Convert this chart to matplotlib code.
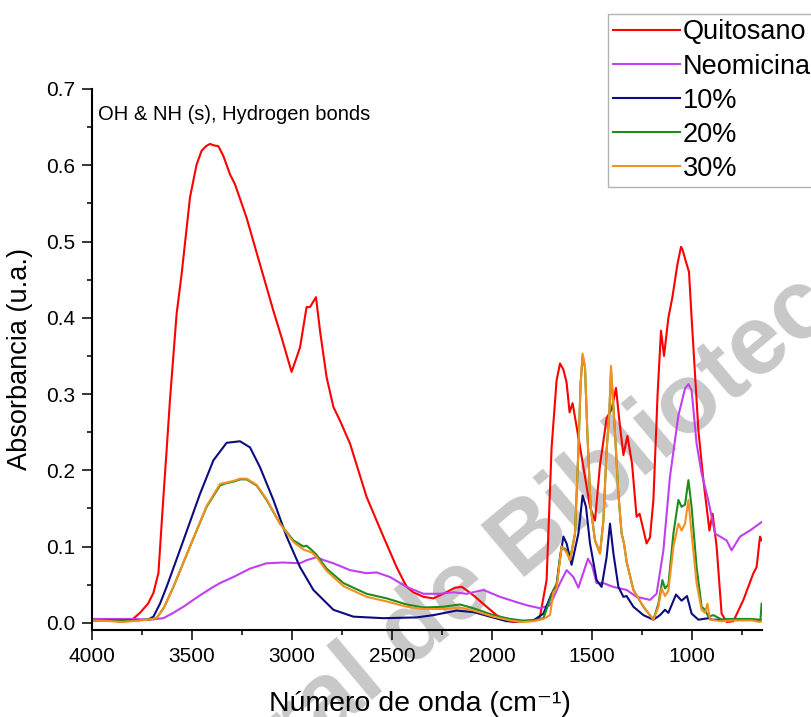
import matplotlib
matplotlib.use("Agg")
from matplotlib import pyplot as plt
from matplotlib.ticker import MultipleLocator
import numpy as np

plt.rcParams['font.family'] = ['Liberation Sans', 'DejaVu Sans']

quitosano_x = [4000, 3900, 3850, 3800, 3760, 3720, 3693, 3668, 3643, 3627, 3610, 3577, 3552, 3510,
               3477, 3452, 3430, 3410, 3390, 3368, 3343, 3310, 3285, 3227, 3160, 3093, 3052, 3020,
               3002, 2977, 2960, 2927, 2910, 2880, 2860, 2827, 2793, 2760, 2710, 2627, 2543, 2477,
               2427, 2393, 2343, 2293, 2243, 2185, 2150, 2093, 2027, 1977, 1930, 1893, 1793, 1760,
               1727, 1702, 1677, 1660, 1643, 1627, 1612, 1597, 1580, 1543, 1510, 1485, 1460, 1427,
               1402, 1380, 1362, 1343, 1323, 1300, 1277, 1262, 1227, 1210, 1193, 1172, 1155, 1140,
               1118, 1098, 1073, 1055, 1048, 1032, 1015, 1002, 993, 968, 943, 913, 897, 877, 852,
               827, 793, 743, 693, 677, 660, 652]
quitosano_y = [0.004, 0.003, 0.001, 0.004, 0.013, 0.025, 0.039, 0.065, 0.165, 0.226, 0.293, 0.405, 0.457, 0.558,
               0.601, 0.619, 0.625, 0.628, 0.626, 0.625, 0.612, 0.588, 0.575, 0.531, 0.470, 0.409, 0.374, 0.345,
               0.329, 0.348, 0.361, 0.414, 0.414, 0.427, 0.383, 0.322, 0.283, 0.265, 0.235, 0.165, 0.113, 0.073,
               0.047, 0.040, 0.034, 0.032, 0.038, 0.046, 0.047, 0.036, 0.021, 0.010, 0.003, 0.001, 0.003, 0.008,
               0.056, 0.230, 0.318, 0.340, 0.332, 0.315, 0.276, 0.288, 0.262, 0.204, 0.152, 0.134, 0.207, 0.268,
               0.280, 0.308, 0.262, 0.220, 0.245, 0.209, 0.139, 0.143, 0.104, 0.112, 0.161, 0.300, 0.383, 0.350,
               0.400, 0.427, 0.470, 0.493, 0.490, 0.475, 0.460, 0.400, 0.361, 0.252, 0.187, 0.121, 0.143, 0.100, 0.012,
               0.001, 0.002, 0.030, 0.065, 0.073, 0.113, 0.108]

neomicina_x = [4000, 3900, 3800, 3710, 3643, 3600, 3543, 3460, 3400, 3360, 3293, 3210, 3127, 3043,
               2960, 2927, 2877, 2840, 2793, 2710, 2627, 2577, 2510, 2427, 2343, 2260, 2193, 2127,
               2043, 1960, 1877, 1827, 1760, 1710, 1660, 1627, 1593, 1568, 1520, 1500, 1477, 1443,
               1393, 1327, 1277, 1210, 1177, 1143, 1110, 1068, 1035, 1018, 1002, 977, 952, 918,
               885, 827, 802, 760, 710, 652]
neomicina_y = [0.005, 0.005, 0.005, 0.004, 0.006, 0.012, 0.021, 0.036, 0.046, 0.052, 0.060, 0.071, 0.078, 0.079,
               0.078, 0.082, 0.086, 0.082, 0.078, 0.069, 0.065, 0.066, 0.060, 0.047, 0.038, 0.038, 0.040, 0.038,
               0.043, 0.034, 0.027, 0.023, 0.019, 0.023, 0.052, 0.069, 0.060, 0.046, 0.084, 0.075, 0.052, 0.052,
               0.047, 0.043, 0.034, 0.030, 0.038, 0.095, 0.192, 0.272, 0.307, 0.313, 0.305, 0.235, 0.196, 0.160,
               0.117, 0.108, 0.095, 0.113, 0.121, 0.132]

p10_x = [4000, 3900, 3800, 3720, 3693, 3660, 3627, 3543, 3460, 3393, 3327, 3260, 3210, 3160, 3093,
         3027, 2960, 2893, 2793, 2693, 2543, 2377, 2293, 2177, 2093, 2010, 1927, 1850, 1793, 1743,
         1702, 1677, 1660, 1643, 1627, 1602, 1568, 1547, 1530, 1510, 1477, 1452, 1427, 1410, 1393,
         1368, 1343, 1327, 1293, 1243, 1193, 1160, 1135, 1118, 1080, 1052, 1025, 1002, 968, 918,
         900, 800, 700, 652]
p10_y = [0.003, 0.003, 0.003, 0.004, 0.008, 0.025, 0.047, 0.108, 0.169, 0.213, 0.236, 0.238, 0.230, 0.204, 0.161,
         0.113, 0.073, 0.043, 0.017, 0.008, 0.006, 0.007, 0.010, 0.016, 0.014, 0.008, 0.002, 0.002, 0.003, 0.012,
         0.038, 0.050, 0.085, 0.113, 0.104, 0.076, 0.117, 0.167, 0.152, 0.104, 0.056, 0.047, 0.086, 0.130, 0.091,
         0.047, 0.034, 0.035, 0.021, 0.010, 0.004, 0.010, 0.017, 0.013, 0.037, 0.029, 0.035, 0.012, 0.004, 0.006,
         0.004, 0.004, 0.004, 0.003]

p20_x = [4000, 3900, 3800, 3720, 3677, 3640, 3593, 3510, 3427, 3360, 3330, 3293, 3260, 3227, 3177,
         3127, 3060, 2993, 2943, 2927, 2900, 2877, 2827, 2743, 2627, 2527, 2427, 2343, 2243, 2160,
         2093, 1993, 1910, 1850, 1793, 1743, 1693, 1677, 1652, 1627, 1610, 1585, 1568, 1557, 1547,
         1535, 1523, 1507, 1485, 1460, 1443, 1427, 1413, 1405, 1397, 1385, 1368, 1352, 1340, 1327,
         1293, 1243, 1193, 1168, 1148, 1135, 1118, 1093, 1068, 1052, 1035, 1018, 1002, 977, 952,
         935, 918, 893, 850, 800, 700, 665, 658, 652]
p20_y = [0.004, 0.003, 0.003, 0.004, 0.006, 0.020, 0.047, 0.100, 0.152, 0.180, 0.183, 0.185, 0.188, 0.188, 0.180,
         0.161, 0.130, 0.108, 0.100, 0.101, 0.095, 0.089, 0.071, 0.052, 0.038, 0.032, 0.024, 0.020, 0.021, 0.024,
         0.019, 0.010, 0.005, 0.003, 0.003, 0.006, 0.043, 0.050, 0.100, 0.095, 0.082, 0.117, 0.226, 0.313, 0.350,
         0.335, 0.248, 0.152, 0.108, 0.091, 0.134, 0.226, 0.278, 0.330, 0.300, 0.248, 0.169, 0.117, 0.104, 0.080,
         0.043, 0.021, 0.004, 0.025, 0.056, 0.045, 0.050, 0.117, 0.161, 0.152, 0.155, 0.187, 0.152, 0.073, 0.021,
         0.017, 0.008, 0.010, 0.004, 0.005, 0.005, 0.004, 0.003, 0.025]

p30_x = [4000, 3900, 3850, 3800, 3720, 3677, 3640, 3593, 3510, 3427, 3360, 3293, 3260, 3227, 3177,
         3127, 3060, 2993, 2943, 2900, 2877, 2827, 2743, 2627, 2527, 2427, 2343, 2243, 2160, 2093,
         1993, 1910, 1850, 1793, 1743, 1710, 1693, 1677, 1652, 1627, 1610, 1585, 1568, 1557, 1547,
         1535, 1523, 1507, 1485, 1460, 1443, 1427, 1413, 1405, 1397, 1385, 1368, 1352, 1340, 1327,
         1293, 1243, 1193, 1168, 1152, 1135, 1118, 1093, 1068, 1052, 1035, 1018, 1002, 977, 952,
         935, 923, 910, 850, 800, 700, 660, 652]
p30_y = [0.003, 0.002, 0.001, 0.002, 0.004, 0.006, 0.020, 0.047, 0.100, 0.153, 0.182, 0.186, 0.189, 0.189, 0.181,
         0.162, 0.130, 0.106, 0.096, 0.092, 0.086, 0.068, 0.048, 0.034, 0.028, 0.021, 0.018, 0.018, 0.020, 0.016,
         0.008, 0.003, 0.001, 0.002, 0.005, 0.010, 0.040, 0.045, 0.100, 0.092, 0.082, 0.117, 0.226, 0.313, 0.353,
         0.335, 0.248, 0.152, 0.108, 0.091, 0.134, 0.226, 0.278, 0.337, 0.300, 0.248, 0.169, 0.117, 0.104, 0.080,
         0.043, 0.021, 0.004, 0.021, 0.045, 0.035, 0.042, 0.100, 0.130, 0.121, 0.130, 0.161, 0.117, 0.052, 0.017,
         0.013, 0.025, 0.004, 0.002, 0.003, 0.003, 0.001, 0.002]

series = [
    ("Quitosano", quitosano_x, quitosano_y, "#ff0000"),
    ("Neomicina", neomicina_x, neomicina_y, "#c23ff0"),
    ("10%", p10_x, p10_y, "#0c0c80"),
    ("20%", p20_x, p20_y, "#1e8c1e"),
    ("30%", p30_x, p30_y, "#f5901e"),
]

fig = plt.figure(figsize=(8.12, 7.17), dpi=100)
ax = fig.add_axes([92 / 812, 1 - 630 / 717, 670 / 812, 541 / 717])
ax.patch.set_alpha(0)

# marca de agua de fondo
wm = dict(fontsize=71, fontweight='bold', color='#c8c8c8', rotation=40,
          rotation_mode='anchor', va='baseline', zorder=-5)
fig.text(518 / 812, 1 - 577 / 717, "Dirección General de ", ha='right', **wm)
fig.text(518 / 812, 1 - 577 / 717, "Bibliotecas", ha='left', **wm)

for nombre, xs, ys, color in series:
    ax.plot(xs, ys, color=color, lw=1.5, label=nombre)

ax.set_xlim(4000, 650)
ax.set_ylim(-0.0095, 0.7)
ax.xaxis.set_major_locator(MultipleLocator(500))
ax.xaxis.set_minor_locator(MultipleLocator(250))
ax.yaxis.set_major_locator(MultipleLocator(0.1))
ax.yaxis.set_minor_locator(MultipleLocator(0.05))
ax.yaxis.set_major_formatter(lambda v, p: "%.1f" % v)

for s in ["top", "right"]:
    ax.spines[s].set_visible(False)
for s in ["left", "bottom"]:
    ax.spines[s].set_linewidth(1.5)

ax.tick_params(which='major', direction='out', length=7, width=1.1, labelsize=15, pad=5)
ax.tick_params(which='minor', direction='out', length=3.6, width=1.1)

ax.set_xlabel("Número de onda (cm⁻¹)", fontsize=20.5)
ax.set_ylabel("Absorbancia (u.a.)", fontsize=19.5)
ax.xaxis.set_label_coords(0.49, -0.112)
ax.yaxis.set_label_coords(-0.088, 0.5)

ax.text(0.009, 0.952, "OH & NH (s), Hydrogen bonds", transform=ax.transAxes,
        fontsize=14.5, va='center', ha='left')

leg = fig.legend(loc='upper left', bbox_to_anchor=(608 / 812, 1 - 14 / 717),
                 fontsize=19.5, frameon=True, fancybox=False, borderpad=0.2,
                 labelspacing=0.3, handlelength=2.45, handletextpad=0.1,
                 borderaxespad=0)
leg.get_frame().set_edgecolor('#a0a0a0')
leg.get_frame().set_linewidth(1.0)

fig.savefig("out.png", dpi=100)
